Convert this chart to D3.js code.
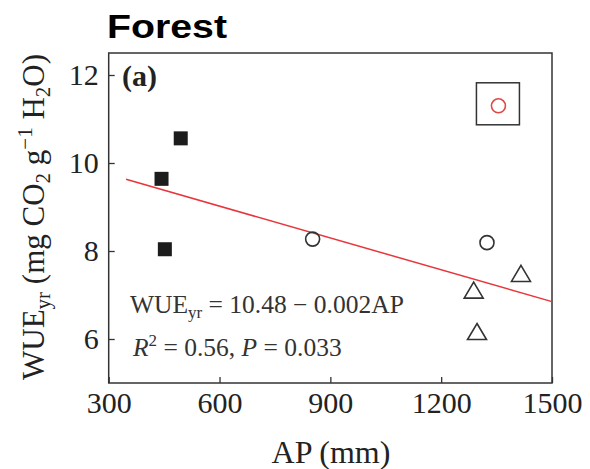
<!DOCTYPE html>
<html>
<head>
<meta charset="utf-8">
<script src="https://cdn.jsdelivr.net/npm/d3@7"></script>
<style>
  html, body { margin: 0; padding: 0; background: #fff; }
  svg { display: block; }
</style>
</head>
<body>
<svg id="chart" width="590" height="469"></svg>
<script>
// ---- data ----
const xTicks = [300, 600, 900, 1200, 1500];
const yTicks = [6, 8, 10, 12];
const squareAP = [495, 443, 452];
const squareWUE = [10.56, 9.64, 8.04];
const circleAP = [852, 1324];
const circleWUE = [8.27, 8.19];
const triangleAP = [1416, 1288, 1297];
const triangleWUE = [7.49, 7.11, 6.17];
const outlierAP = [1355];
const outlierWUE = [11.30];
const fitAP = [347, 1500];
const fitWUE = [9.63, 6.85];

const svg = d3.select("#chart");
const L = 108.7, R = 552, T = 53, B = 383;
const x = d3.scaleLinear().domain([300, 1500]).range([L, R]);
const y = d3.scaleLinear().domain([5, 12.5]).range([B, T]);
const serif = "'Liberation Serif', 'Times New Roman', serif";
const ink = "#333";

// title
svg.append("text")
  .attr("x", 107).attr("y", 38)
  .attr("font-family", "'Liberation Sans', Arial, sans-serif")
  .attr("font-weight", "bold").attr("font-size", 33)
  .attr("textLength", 120).attr("lengthAdjust", "spacingAndGlyphs")
  .attr("fill", "#000").text("Forest");

// axes
const yAxis = svg.append("g").attr("transform", `translate(${L},0)`)
  .call(d3.axisLeft(y).tickValues(yTicks).tickSizeInner(-6).tickSizeOuter(0).tickPadding(10).tickFormat(d3.format("d")));
const xAxis = svg.append("g").attr("transform", `translate(0,${B})`)
  .call(d3.axisBottom(x).tickValues(xTicks).tickSizeInner(-6).tickSizeOuter(0).tickFormat(d3.format("d")));
[yAxis, xAxis].forEach(g => {
  g.select(".domain").remove();
  g.selectAll("line").attr("stroke", ink).attr("stroke-width", 1.3);
  g.selectAll("text").attr("font-family", serif).attr("font-size", 30).attr("fill", "#222");
});
xAxis.selectAll("text").attr("dy", null).attr("y", 30);

// frame
svg.append("rect").attr("x", L).attr("y", T).attr("width", R - L).attr("height", B - T)
  .attr("fill", "none").attr("stroke", ink).attr("stroke-width", 1.5);

// fit line
svg.append("line")
  .attr("x1", x(fitAP[0])).attr("y1", y(fitWUE[0]))
  .attr("x2", x(fitAP[1])).attr("y2", y(fitWUE[1]))
  .attr("stroke", "#e8353a").attr("stroke-width", 1.5);

// squares
const sq = 14;
svg.append("g").selectAll("rect").data(squareAP.map((d, i) => [d, squareWUE[i]])).join("rect")
  .attr("x", d => x(d[0]) - sq / 2).attr("y", d => y(d[1]) - sq / 2)
  .attr("width", sq).attr("height", sq).attr("fill", "#1c1c1c");

// open circles
svg.append("g").selectAll("circle").data(circleAP.map((d, i) => [d, circleWUE[i]])).join("circle")
  .attr("cx", d => x(d[0])).attr("cy", d => y(d[1])).attr("r", 7)
  .attr("fill", "none").attr("stroke", ink).attr("stroke-width", 1.6);

// triangles
const tw = 19, th = 16;
svg.append("g").selectAll("path").data(triangleAP.map((d, i) => [d, triangleWUE[i]])).join("path")
  .attr("transform", d => `translate(${x(d[0])},${y(d[1])})`)
  .attr("d", `M0,${-th / 2}L${tw / 2},${th / 2}L${-tw / 2},${th / 2}Z`)
  .attr("fill", "none").attr("stroke", ink).attr("stroke-width", 1.6).attr("stroke-linejoin", "miter");

// outlier (red circle in box)
const og = svg.append("g").selectAll("g").data(outlierAP.map((d, i) => [d, outlierWUE[i]])).join("g")
  .attr("transform", d => `translate(${x(d[0])},${y(d[1])})`);
og.append("rect").attr("x", -22).attr("y", -23).attr("width", 43).attr("height", 42)
  .attr("fill", "none").attr("stroke", ink).attr("stroke-width", 1.5);
og.append("circle").attr("r", 7).attr("fill", "none").attr("stroke", "#e04848").attr("stroke-width", 1.6);

// panel label
svg.append("text").attr("x", 122).attr("y", 86)
  .attr("font-family", serif).attr("font-weight", "bold").attr("font-size", 30)
  .attr("fill", "#222").text("(a)");

// equation
const eq = svg.append("text").attr("x", 130).attr("y", 313)
  .attr("font-family", serif).attr("font-size", 25.5).attr("fill", "#333");
eq.append("tspan").text("WUE");
eq.append("tspan").attr("font-size", 17).attr("dy", 5).text("yr");
eq.append("tspan").attr("dy", -5).text(" = 10.48 \u2212 0.002AP");

const r2 = svg.append("text").attr("x", 133).attr("y", 356)
  .attr("font-family", serif).attr("font-size", 25.5).attr("fill", "#333");
r2.append("tspan").attr("font-style", "italic").text("R");
r2.append("tspan").attr("font-size", 17).attr("dy", -10).text("2");
r2.append("tspan").attr("dy", 10).text(" = 0.56, ");
r2.append("tspan").attr("font-style", "italic").text("P");
r2.append("tspan").text(" = 0.033");

// axis titles
svg.append("text").attr("x", 331).attr("y", 463).attr("text-anchor", "middle")
  .attr("font-family", serif).attr("font-size", 32).attr("fill", "#222").text("AP (mm)");

const yl = svg.append("text").attr("transform", "translate(44,217) rotate(-90)")
  .attr("text-anchor", "middle")
  .attr("font-family", serif).attr("font-size", 31).attr("fill", "#222");
yl.append("tspan").text("WUE");
yl.append("tspan").attr("font-size", 21).attr("dy", 6).text("yr");
yl.append("tspan").attr("dy", -6).text(" (mg CO");
yl.append("tspan").attr("font-size", 21).attr("dy", 6).text("2");
yl.append("tspan").attr("dy", -6).text(" g");
yl.append("tspan").attr("font-size", 21).attr("dy", -12).text("\u22121");
yl.append("tspan").attr("dy", 12).text(" H");
yl.append("tspan").attr("font-size", 21).attr("dy", 6).text("2");
yl.append("tspan").attr("dy", -6).text("O)");
</script>
</body>
</html>
